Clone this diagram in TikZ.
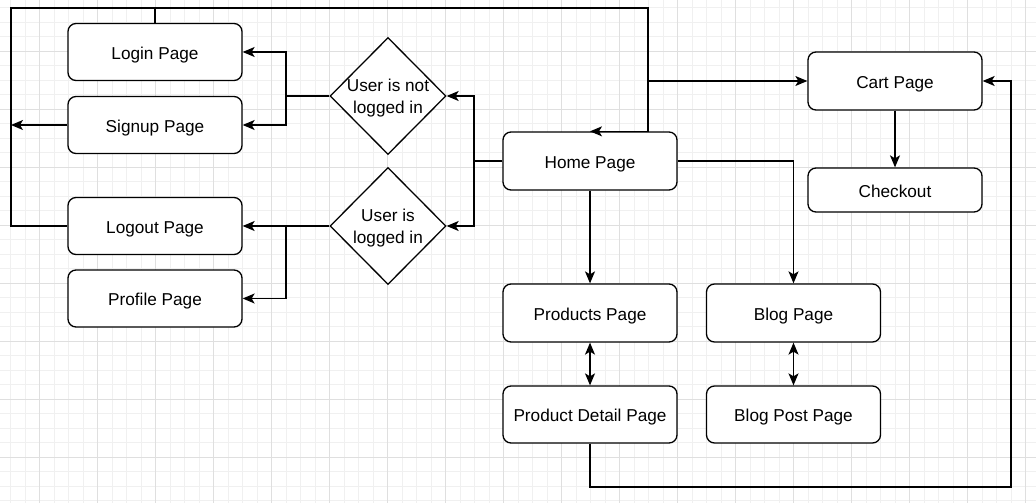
\documentclass[tikz,border=0pt]{standalone}
\usepackage{fontspec}
\setmainfont{Liberation Sans}
\usetikzlibrary{arrows.meta,shapes.geometric}
\begin{document}
\begin{tikzpicture}[x=1pt,y=-1pt,
  font=\fontsize{17.2}{22}\selectfont,
  page/.style={draw=black,line width=1.3pt,rounded corners=8pt,fill=white,minimum width=174pt,minimum height=57pt,inner sep=0pt,text height=14.3pt,text depth=0pt},
  decision/.style={draw=black,line width=1.3pt,diamond,fill=white,minimum width=116pt,minimum height=117pt,inner sep=0pt},
  arr/.style={line width=1.3pt,-{Stealth[length=12pt,width=10pt,inset=3pt]}},
  twoway/.style={line width=1.3pt,{Stealth[length=12pt,width=10pt,inset=3pt]}-{Stealth[length=12pt,width=10pt,inset=3pt]}},
  link/.style={line width=1.3pt}]
\useasboundingbox (0,0) rectangle (1036,503);
% grid
\foreach \gx in {10.5,25,...,1036} \draw[gray!12,line width=0.8pt] (\gx,0)--(\gx,503);
\foreach \gy in {7.5,22,...,503} \draw[gray!12,line width=0.8pt] (0,\gy)--(1036,\gy);
\foreach \gx in {39.5,97.5,...,1036} \draw[gray!25,line width=0.8pt] (\gx,0)--(\gx,503);
\foreach \gy in {51,109,...,503} \draw[gray!25,line width=0.8pt] (0,\gy)--(1036,\gy);
% pages
\node[page] (login) at (155,52) {Login Page};
\node[page] (signup) at (155,125) {Signup Page};
\node[page] (logout) at (155,226) {Logout Page};
\node[page] (profile) at (155,298.5) {Profile Page};
\node[decision,label={[align=center,yshift=-2pt]center:User is not\\logged in}] (notin) at (388,96) {};
\node[decision,label={[align=center,yshift=-2pt]center:User is\\logged in}] (isin) at (388,226) {};
\node[page,minimum height=58pt] (home) at (590,161) {Home Page};
\node[page,minimum height=58pt] (cart) at (895,81) {Cart Page};
\node[page,minimum height=44pt] (checkout) at (895,190) {Checkout};
\node[page,minimum height=58pt] (products) at (590,313) {Products Page};
\node[page] (detail) at (590,414.5) {Product Detail Page};
\node[page,minimum height=58pt] (blog) at (793.5,313) {Blog Page};
\node[page] (blogpost) at (793.5,414.5) {Blog Post Page};
% bend points
\coordinate (hsplit) at (474,161);
\coordinate (nsplit) at (286,96);
\coordinate (isplit) at (286,226);
\coordinate (tl) at (11,8);
\coordinate (tr) at (648,8);
\coordinate (br) at (1011,487);
% connectors
\draw[arr] (home.west) -- (hsplit) |- (notin.east);
\draw[arr] (hsplit) |- (isin.east);
\draw[arr] (notin.west) -- (nsplit) |- (login.east);
\draw[arr] (nsplit) |- (signup.east);
\draw[arr] (isin.west) -- (isplit) -- (logout.east);
\draw[arr] (isplit) |- (profile.east);
\draw[arr] (logout.west) -| (tl) -- (tr) |- (home.north);
\draw[link] (login.north) -- (login.north |- tl);
\draw[arr] (signup.west) -- (signup.west -| tl);
\draw[arr] (cart.west -| tr) -- (cart.west);
\draw[arr] (cart.south) -- (checkout.north);
\draw[arr] (home.south) -- (products.north);
\draw[arr] (home.east) -| (blog.north);
\draw[twoway] (products.south) -- (detail.north);
\draw[twoway] (blog.south) -- (blogpost.north);
\draw[arr] (detail.south) |- (br) |- (cart.east);
\end{tikzpicture}
\end{document}
